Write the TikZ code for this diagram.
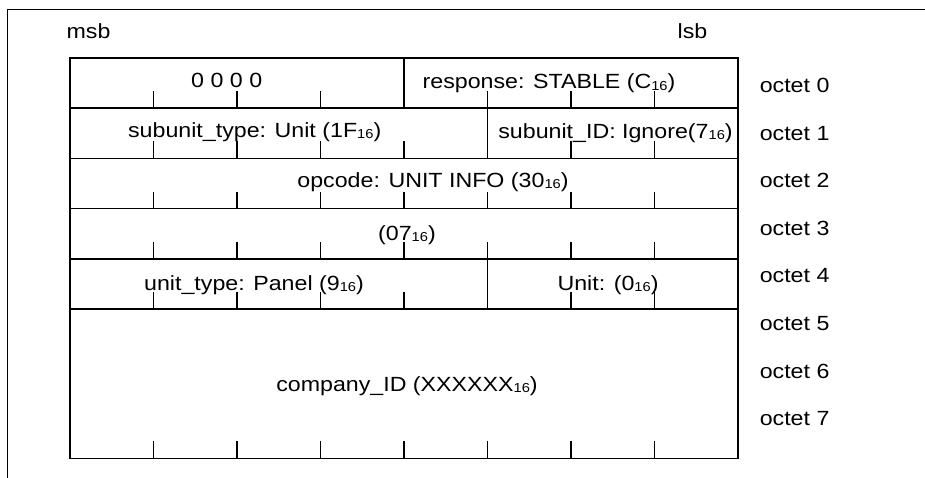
\documentclass[tikz,border=0pt]{standalone}
\usepackage{fontspec}
\setmainfont{Liberation Sans}[FakeStretch=1.13]
\newcommand{\hx}[1]{\raisebox{-0.8pt}{\fontsize{9.75}{10}\selectfont #1}}
\begin{document}
\begin{tikzpicture}[x=0.75pt,y=-0.75pt, line width=1.15pt,
  lbl/.style={anchor=base, inner sep=0pt, font=\fontsize{15.4}{18}\selectfont},
  tickmark/.style={line width=1.15pt}]
\useasboundingbox (0,0) rectangle (925,478);
% outer frame (partly visible)
\draw (7.3,478) -- (7.3,9.3) -- (925,9.3);
% table
\draw (70,58) rectangle (738,458.3);
\foreach \y in {108,158.3,208.7,259,309} \draw (70,\y) -- (738,\y);
\draw (404,58) -- (404,108);
\draw (487.5,108) -- (487.5,158.3);
\draw (487.5,259) -- (487.5,309);
% ticks
\foreach \x in {153.5,237,320.5,487.5,571,654.5} \draw[tickmark] (\x,108) -- ++(0,-17);
\foreach \x in {153.5,237,320.5,404,571,654.5} \draw[tickmark] (\x,158.3) -- ++(0,-17);
\foreach \x in {153.5,237,320.5,404,487.5,571,654.5} \draw[tickmark] (\x,208.7) -- ++(0,-17);
\foreach \x in {153.5,237,320.5,404,487.5,571,654.5} \draw[tickmark] (\x,259) -- ++(0,-17);
\foreach \x in {153.5,237,320.5,404,571,654.5} \draw[tickmark] (\x,309) -- ++(0,-17);
\foreach \x in {153.5,237,320.5,404,487.5,571,654.5} \draw[tickmark] (\x,458.3) -- ++(0,-17);
% labels
\node[lbl] (msb) at (88.5,38.3) {msb};
\node[lbl] (lsb) at (692.5,38.3) {lsb};
\foreach \i in {0,...,7} \node[lbl, anchor=base west] (oct\i) at (759,92.7+47.57*\i) {octet \i};
\node[lbl] (f0) at (226.7,88) {0 0 0 0};
\node[lbl] (resp) at (549,89) {response: STABLE (C\hx{16})};
\node[lbl] (stype) at (254.7,137.7) {subunit\_type: Unit (1F\hx{16})};
\node[lbl] (sid) at (615.5,138) {subunit\_ID: Ignore(7\hx{16})};
\node[lbl] (opc) at (433,187.7) {opcode: UNIT INFO (30\hx{16})};
\node[lbl] (len) at (407,240) {(07\hx{16})};
\node[lbl] (utype) at (254,290.7) {unit\_type: Panel (9\hx{16})};
\node[lbl] (unit) at (608,290.7) {Unit: (0\hx{16})};
\node[lbl] (cid) at (407,391.7) {company\_ID (XXXXXX\hx{16})};
\end{tikzpicture}
\end{document}
